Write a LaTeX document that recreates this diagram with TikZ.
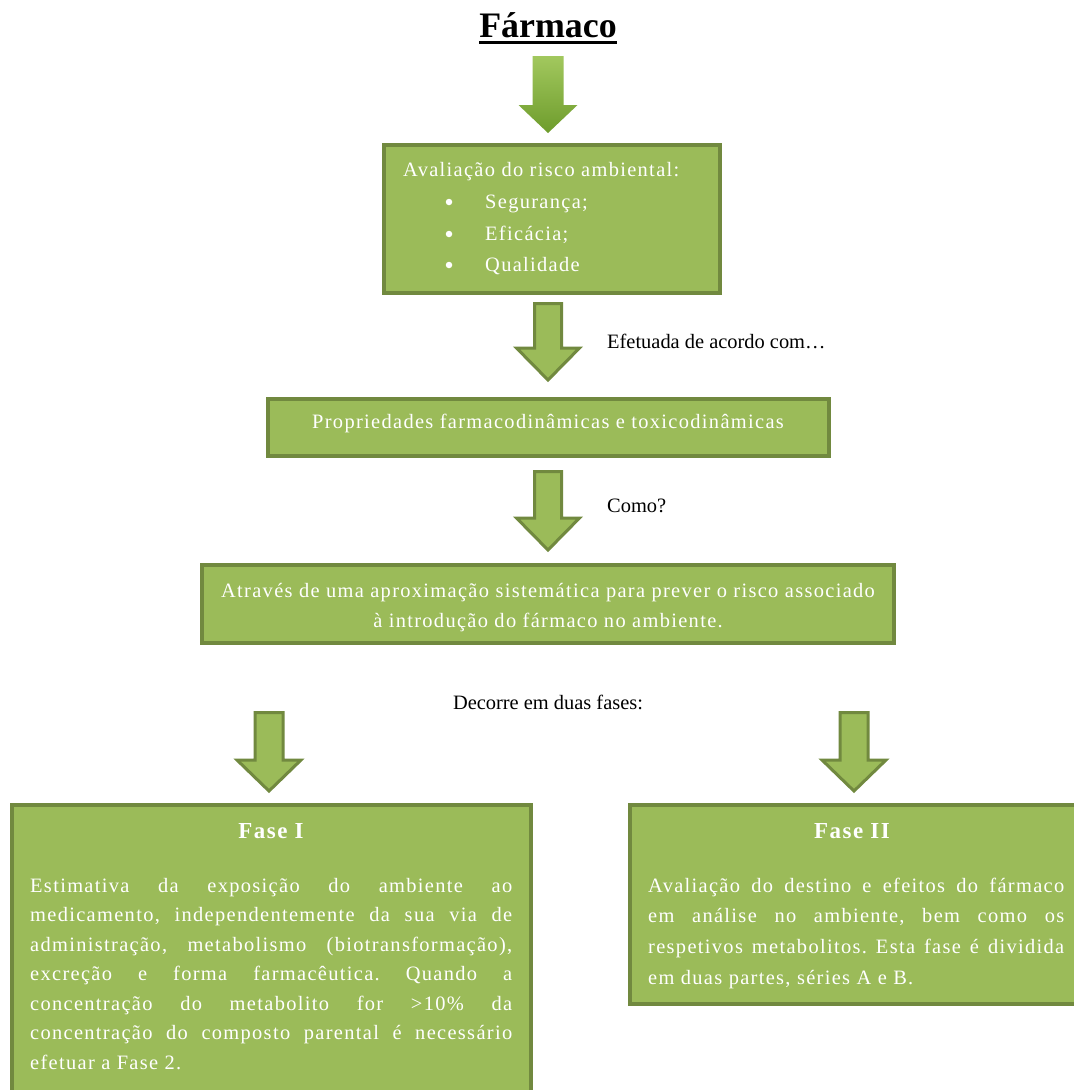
\documentclass[tikz,border=0pt]{standalone}
\usepackage{fontspec}
\setmainfont{Liberation Serif}
\newfontfamily\boxfont[LetterSpace=6.5]{Liberation Serif}
\definecolor{boxfill}{HTML}{9BBB59}
\definecolor{boxline}{HTML}{71893F}
\definecolor{gradtop}{HTML}{A2C85E}
\definecolor{gradbot}{HTML}{6E9C2C}
\newcommand\blkarrow[7]{% style, cx, top, headstart, tip, shaft half, head half
  \path[#1] (#2-#6,#3) -- (#2+#6,#3) -- (#2+#6,#4) -- (#2+#7,#4) -- (#2,#5)
    -- (#2-#7,#4) -- (#2-#6,#4) -- cycle;}
\tikzset{
  gbox/.style={draw=boxline, line width=4bp, fill=boxfill, inner sep=0pt, outer sep=0pt},
  garrow/.style={draw=boxline, line width=3bp, fill=boxfill, line join=miter},
  wtext/.style={text=white, font=\boxfont\fontsize{20.5}{30}\selectfont, inner sep=0pt},
  wtitle/.style={text=white, font=\boxfont\bfseries\fontsize{23}{28}\selectfont, inner sep=0pt},
  ktext/.style={text=black, font=\fontsize{20.5}{24}\selectfont, inner sep=0pt},
  bul/.style={circle, fill=white, minimum size=6.5bp, inner sep=0pt},
}
\begin{document}
\frenchspacing
\begin{tikzpicture}[x=1bp,y=-1bp]
\useasboundingbox (0,0) rectangle (1074,1090);
\clip (0,0) rectangle (1074,1090);
\fill[white] (0,0) rectangle (1074,1090);

% title
\node[inner sep=0pt, anchor=base, font=\bfseries\fontsize{36}{40}\selectfont] (title) at (548,37) {Fármaco};
\draw[line width=2.8bp] ([yshift=-5.5bp]title.base west) -- ([yshift=-5.5bp]title.base east);

% boxes
\node[gbox, minimum width=336bp, minimum height=148bp] (b1) at (552,219) {};
\node[gbox, minimum width=561bp, minimum height=57bp] (b2) at (548.5,427.5) {};
\node[gbox, minimum width=692bp, minimum height=78bp] (b3) at (548,604) {};
\node[gbox, minimum width=519bp, minimum height=320bp] (f1) at (271.5,965) {};
\node[gbox, minimum width=480bp, minimum height=199bp] (f2) at (870,904.5) {};

% block arrows
\blkarrow{top color=gradtop, bottom color=gradbot}{548}{56}{105}{133}{15.5}{29.5}
\blkarrow{garrow}{548}{303.5}{348}{380}{13.5}{31.5}
\blkarrow{garrow}{548}{471.5}{518}{550}{13.5}{31.5}
\blkarrow{garrow}{269}{712.5}{760}{791}{14}{32}
\blkarrow{garrow}{854}{712.5}{760}{791}{14}{32}

% box 1 text
\node[wtext, anchor=base west] (t1) at (403,176) {Avaliação do risco ambiental:};
\node[bul] (u1) at (449,202) {};
\node[bul] (u2) at (449,234) {};
\node[bul] (u3) at (449,265) {};
\node[wtext, anchor=base west] (i1) at (485,208) {Segurança;};
\node[wtext, anchor=base west] (i2) at (485,240) {Eficácia;};
\node[wtext, anchor=base west] (i3) at (485,271) {Qualidade};

% box 2, 3 text
\node[wtext, anchor=base] (t2) at (548,428) {Propriedades farmacodinâmicas e toxicodinâmicas};
\node[wtext, anchor=base] (t3a) at (548,597) {Através de uma aproximação sistemática para prever o risco associado};
\node[wtext, anchor=base] (t3b) at (548,627) {à introdução do fármaco no ambiente.};

% black labels
\node[ktext, anchor=base west] (l1) at (607,348) {Efetuada de acordo com…};
\node[ktext, anchor=base west] (l2) at (607,512) {Como?};
\node[ktext, anchor=base] (l3) at (548,709) {Decorre em duas fases:};

% Fase I
\node[wtitle, anchor=base] (h1) at (271,838) {Fase I};
\foreach \t [count=\i from 0] in {{Estimativa da exposição do ambiente ao},
  {medicamento, independentemente da sua via de},
  {administração, metabolismo (biotransformação),},
  {excreção e forma farmacêutica. Quando a},
  {concentração do metabolito for >10\% da},
  {concentração do composto parental é necessário}}
  \node[wtext, anchor=base west] (fa\i) at (30,892+29.5*\i) {\makebox[482bp][s]{\t}};
\node[wtext, anchor=base west] (fa6) at (30,892+29.5*6) {efetuar a Fase 2.};

% Fase II
\node[wtitle, anchor=base] (h2) at (852,838) {Fase II};
\foreach \t [count=\i from 0] in {{Avaliação do destino e efeitos do fármaco},
  {em análise no ambiente, bem como os},
  {respetivos metabolitos. Esta fase é dividida}}
  \node[wtext, anchor=base west] (fb\i) at (648,892+30.7*\i) {\makebox[416bp][s]{\t}};
\node[wtext, anchor=base west] (fb3) at (648,892+30.7*3) {em duas partes, séries A e B.};
\end{tikzpicture}
\end{document}
